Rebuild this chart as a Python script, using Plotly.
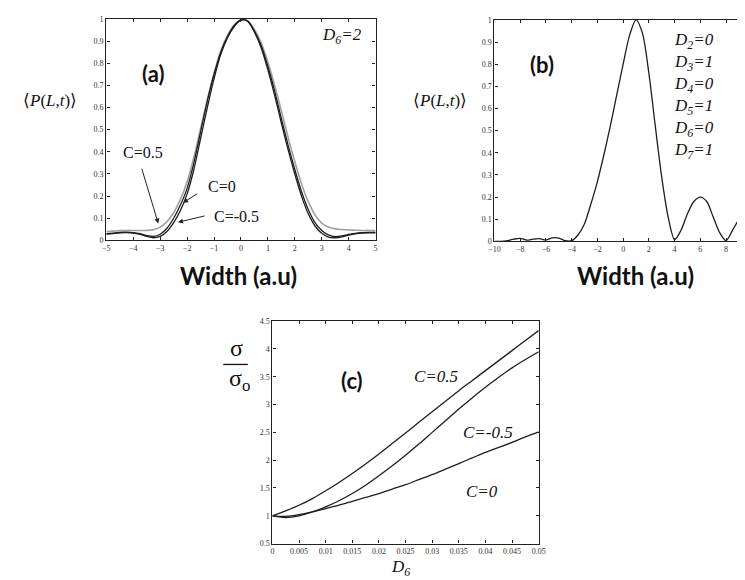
import plotly.graph_objects as go

W, H = 745, 580

# ---------------- data ----------------
# Panel (a): <P(L,t)> vs width, D6 = 2
xa = [-5 + 0.25 * i for i in range(41)]
pa_c05 = [0.040, 0.042, 0.044, 0.045, 0.045, 0.045, 0.045, 0.048, 0.060, 0.085, 0.125, 0.185, 0.265,
          0.375, 0.505, 0.635, 0.755, 0.855, 0.925, 0.972, 0.996, 0.99, 0.952, 0.892, 0.805, 0.70,
          0.585, 0.465, 0.355, 0.255, 0.175, 0.115, 0.078, 0.060, 0.052, 0.049, 0.047, 0.046, 0.045,
          0.045, 0.044]
pa_c0 = [0.030, 0.033, 0.036, 0.037, 0.035, 0.030, 0.022, 0.018, 0.028, 0.055, 0.10, 0.16, 0.235,
         0.35, 0.49, 0.63, 0.75, 0.85, 0.92, 0.97, 0.995, 0.99, 0.945, 0.88, 0.785, 0.675, 0.55, 0.43,
         0.32, 0.22, 0.14, 0.08, 0.045, 0.025, 0.017, 0.02, 0.027, 0.032, 0.035, 0.036, 0.036]
pa_cm05 = [0.028, 0.031, 0.034, 0.035, 0.033, 0.027, 0.018, 0.012, 0.018, 0.04, 0.08, 0.135, 0.21,
           0.32, 0.46, 0.60, 0.73, 0.84, 0.915, 0.965, 0.995, 0.99, 0.94, 0.87, 0.77, 0.655, 0.53,
           0.41, 0.30, 0.20, 0.12, 0.065, 0.032, 0.015, 0.012, 0.016, 0.024, 0.030, 0.033, 0.034, 0.034]

# Panel (b): <P(L,t)> vs width, D2..D7 = 0,1,0,1,0,1
xb = [-10 + 0.5 * i for i in range(40)]
pb = [0.0, 0.0, 0.003, 0.010, 0.014, 0.006, 0.010, 0.012, 0.006, 0.016, 0.015, 0.003, 0.003,
      0.03, 0.08, 0.17, 0.27, 0.39, 0.52, 0.66, 0.80, 0.93, 1.0, 0.94, 0.76, 0.52, 0.29, 0.11,
      0.008, 0.05, 0.125, 0.18, 0.2, 0.18, 0.11, 0.04, 0.003, 0.05, 0.10, 0.14]

# Panel (c): sigma/sigma_o vs D6
xc = [0.0025 * i for i in range(21)]
sc_c05 = [1.00, 1.09, 1.19, 1.31, 1.45, 1.60, 1.76, 1.93, 2.11, 2.30, 2.49, 2.68, 2.87, 3.06, 3.25,
          3.43, 3.61, 3.79, 3.97, 4.15, 4.33]
sc_cm05 = [1.00, 0.97, 1.00, 1.07, 1.16, 1.27, 1.40, 1.55, 1.72, 1.90, 2.09, 2.29, 2.50, 2.71, 2.92,
           3.12, 3.31, 3.49, 3.66, 3.81, 3.95]
sc_c0 = [1.00, 0.99, 1.02, 1.07, 1.13, 1.19, 1.26, 1.33, 1.40, 1.48, 1.56, 1.65, 1.74, 1.84, 1.94,
         2.04, 2.14, 2.23, 2.32, 2.42, 2.51]

# tick labels
ticks_ay = [0, 0.1, 0.2, 0.3, 0.4, 0.5, 0.6, 0.7, 0.8, 0.9, 1]
ticks_ax = [-5, -4, -3, -2, -1, 0, 1, 2, 3, 4, 5]
ticks_bx = [-10, -8, -6, -4, -2, 0, 2, 4, 6, 8]
ticks_cx = [0, 0.005, 0.01, 0.015, 0.02, 0.025, 0.03, 0.035, 0.04, 0.045, 0.05]
ticks_cx_text = ["0", "0.005", "0.01", "0.015", "0.02", "0.025", "0.03", "0.035", "0.04", "0.045", "0.05"]
ticks_cy = [0.5, 1, 1.5, 2, 2.5, 3, 3.5, 4, 4.5]

# ---------------- figure ----------------
def px(x):
    return x / W

def py(y):
    return 1 - y / H

DARK = "#1e1e1e"
fig = go.Figure()
ln = dict(color=DARK, width=1.3, shape="spline", smoothing=0.8)

fig.add_trace(go.Scatter(x=xa, y=pa_c05, mode="lines",
                         line=dict(color="#a0a0a0", width=1.6, shape="spline", smoothing=0.8),
                         xaxis="x", yaxis="y"))
fig.add_trace(go.Scatter(x=xa, y=pa_c0, mode="lines", line=ln, xaxis="x", yaxis="y"))
fig.add_trace(go.Scatter(x=xa, y=pa_cm05, mode="lines", line=ln, xaxis="x", yaxis="y"))
fig.add_trace(go.Scatter(x=xb, y=pb, mode="lines", line=ln, xaxis="x2", yaxis="y2"))
fig.add_trace(go.Scatter(x=xc, y=sc_c05, mode="lines", line=ln, xaxis="x3", yaxis="y3"))
fig.add_trace(go.Scatter(x=xc, y=sc_cm05, mode="lines", line=ln, xaxis="x3", yaxis="y3"))
fig.add_trace(go.Scatter(x=xc, y=sc_c0, mode="lines", line=ln, xaxis="x3", yaxis="y3"))

SERIF = "Liberation Serif, Times New Roman, serif"
BOLD = "Lato, Open Sans, sans-serif"
tickfont = dict(family=SERIF, size=8, color="#333")
axcommon = dict(showline=True, linecolor="#222", linewidth=1.3, mirror="allticks", ticks="inside",
                ticklen=3, tickcolor="#222", showgrid=False, zeroline=False, tickfont=tickfont)

fig.update_layout(
    width=W, height=H, margin=dict(l=0, r=0, t=0, b=0),
    paper_bgcolor="white", plot_bgcolor="white", showlegend=False,
    xaxis=dict(domain=[px(94), px(368)], range=[-5, 5], tickvals=ticks_ax, anchor="y", **axcommon),
    yaxis=dict(domain=[py(232), py(7)], range=[0, 1], tickvals=ticks_ay, anchor="x", **axcommon),
    xaxis2=dict(domain=[px(489), 1.0], range=[-10, 9.55], tickvals=ticks_bx, anchor="y2", **axcommon),
    yaxis2=dict(domain=[py(233), py(8)], range=[0, 1], tickvals=ticks_ay, anchor="x2", **axcommon),
    xaxis3=dict(domain=[px(263), px(534)], range=[0, 0.05], tickvals=ticks_cx, ticktext=ticks_cx_text,
                anchor="y3", **axcommon),
    yaxis3=dict(domain=[py(540), py(314)], range=[0.5, 4.5], tickvals=ticks_cy, anchor="x3", **axcommon),
)

ann = []

def txt(x, y, s, size, family=SERIF, xref="paper", yref="paper", color="#111", xanchor="center"):
    ann.append(dict(x=x, y=y, xref=xref, yref=yref, text=s, showarrow=False,
                    font=dict(family=family, size=size, color=color), xanchor=xanchor, yanchor="middle"))

# panel (a)
txt(px(141), py(62), "<b>(a)</b>", 22, BOLD)
txt(px(228), py(268), "<b>Width (a.u)</b>", 24, BOLD)
txt(px(37), py(90), "⟨<i>P</i>(<i>L</i>,<i>t</i>)⟩", 17)
txt(px(334), py(24), "<i>D<sub>6</sub>=2</i>", 17)
txt(px(131), py(143), "C=0.5", 16)
txt(px(212), py(177), "C=0", 16)
txt(px(226), py(208), "C=-0.5", 16)
for (hx, hy, tx, ty) in [(-3.07, 0.076, -3.7, 0.33), (-2.15, 0.17, -1.57, 0.215), (-2.34, 0.082, -1.3, 0.112)]:
    ann.append(dict(x=hx, y=hy, ax=tx, ay=ty, xref="x", yref="y", axref="x", ayref="y", text="",
                    showarrow=True, arrowhead=2, arrowsize=1, arrowwidth=1, arrowcolor="#222"))

# panel (b)
txt(px(537), py(53), "<b>(b)</b>", 22, BOLD)
txt(px(633), py(268), "<b>Width (a.u)</b>", 24, BOLD)
txt(px(434), py(90), "⟨<i>P</i>(<i>L</i>,<i>t</i>)⟩", 17)
dlabels = ["<i>D<sub>2</sub>=0</i>", "<i>D<sub>3</sub>=1</i>", "<i>D<sub>4</sub>=0</i>",
           "<i>D<sub>5</sub>=1</i>", "<i>D<sub>6</sub>=0</i>", "<i>D<sub>7</sub>=1</i>"]
for i, s in enumerate(dlabels):
    txt(px(670), py(29 + 22.4 * i), s, 17, xanchor="left")

# panel (c)
txt(0.015, 3.43, "<b>(c)</b>", 22, BOLD, xref="x3", yref="y3")
txt(0.0308, 3.5, "<i>C=0.5</i>", 17, xref="x3", yref="y3")
txt(0.0405, 2.5, "<i>C=-0.5</i>", 17, xref="x3", yref="y3")
txt(0.0394, 1.44, "<i>C=0</i>", 17, xref="x3", yref="y3")
txt(px(393), py(565), "<i>D<sub>6</sub></i>", 17)
txt(px(226), py(341), "σ", 24)
txt(px(230), py(374), "σ<sub>o</sub>", 24)
fig.update_layout(annotations=ann)
fig.add_shape(type="line", xref="paper", yref="paper", x0=px(213), x1=px(238), y0=py(358), y1=py(358),
              line=dict(color="#111", width=1.3))

fig.write_html("out.html")
